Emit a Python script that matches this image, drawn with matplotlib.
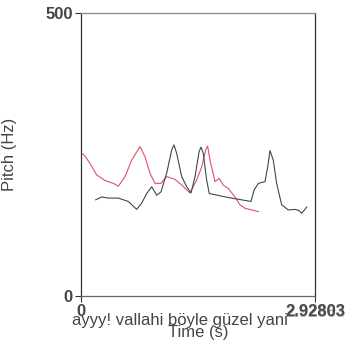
import matplotlib
matplotlib.use("Agg")
import matplotlib.pyplot as plt

plt.rcParams['font.family'] = ['Liberation Sans', 'DejaVu Sans']

# Series 1 (dark curve)
t_dark = [0.184, 0.259, 0.342, 0.467, 0.592, 0.697, 0.759, 0.822, 0.885, 0.947,
          1.001, 1.072, 1.135, 1.164, 1.197, 1.260, 1.323, 1.376, 1.427, 1.477,
          1.502, 1.530, 1.572, 1.605, 1.843, 2.127, 2.165, 2.219, 2.302, 2.336,
          2.365, 2.406, 2.448, 2.511, 2.594, 2.678, 2.728, 2.761, 2.824]
f_dark = [170, 175, 173, 173, 167, 153, 164, 181, 193, 178,
          184, 217, 258, 267, 252, 211, 193, 182, 211, 255,
          263, 252, 205, 181, 174, 167, 187, 199, 202, 228,
          257, 240, 199, 161, 152, 153, 151, 146, 157]

# Series 2 (red curve)
t_red = [0.0, 0.041, 0.113, 0.196, 0.300, 0.404, 0.467, 0.551, 0.634, 0.738,
         0.801, 0.863, 0.926, 1.001, 1.072, 1.176, 1.260, 1.364, 1.447, 1.510,
         1.560, 1.585, 1.614, 1.677, 1.727, 1.780, 1.843, 1.927, 1.990, 2.052,
         2.136, 2.219]
f_red = [252, 249, 234, 214, 204, 199, 194, 211, 240, 264,
         246, 217, 199, 199, 211, 206, 196, 182, 205, 228,
         258, 265, 240, 202, 208, 196, 190, 175, 161, 155,
         152, 149]

t_max = 2.92803
f_max = 500
x_tick_labels = ['0', '2.92803']
end_label_2 = '2.92863'
sentence = "ayyy! vallahi böyle güzel yani"
x_label = "Time (s)"
y_label = "Pitch (Hz)"

fig = plt.figure(figsize=(3.55, 3.5), dpi=100)
ax = fig.add_axes([81/355, 1-296/350, 234/355, 283/350])
ax.plot(t_red, f_red, color='#e0506a', lw=0.8)
ax.plot(t_dark, f_dark, color='#3a4a48', lw=0.8)
ax.set_xlim(0, t_max)
ax.set_ylim(0, f_max)
for s in ax.spines.values():
    s.set_color('#333333')
    s.set_linewidth(0.9)
ax.spines['top'].set_color('#888888')
ax.spines['top'].set_linestyle((0, (2, 1)))
ax.spines['bottom'].set_color('#666666')
ax.set_yticks([0, f_max])
ax.set_yticklabels(['0', '500'])
ax.set_xticks([0, t_max])
ax.set_xticklabels(x_tick_labels)
ax.tick_params(axis='both', labelsize=12, colors='#333333', length=4, width=0.8, pad=2)
for lbl in ax.get_yticklabels() + ax.get_xticklabels():
    lbl.set_color('#444444')
    lbl.set_fontweight('bold')
ax.annotate(end_label_2, xy=(1.0, 0.0), xycoords='axes fraction',
            xytext=(0.5, -6.5), textcoords='offset points', ha='center', va='top',
            fontsize=12, color='#555555', fontweight='bold', alpha=0.5)
ax.set_ylabel(y_label, fontsize=12, color='#444444', labelpad=20)
fig.text(180/355, 1-321/350, sentence, ha='center', va='center', fontsize=12, color='#444444')
fig.text(198/355, 1-332/350, x_label, ha='center', va='center', fontsize=12, color='#444444')
fig.savefig('out.png', dpi=100)
